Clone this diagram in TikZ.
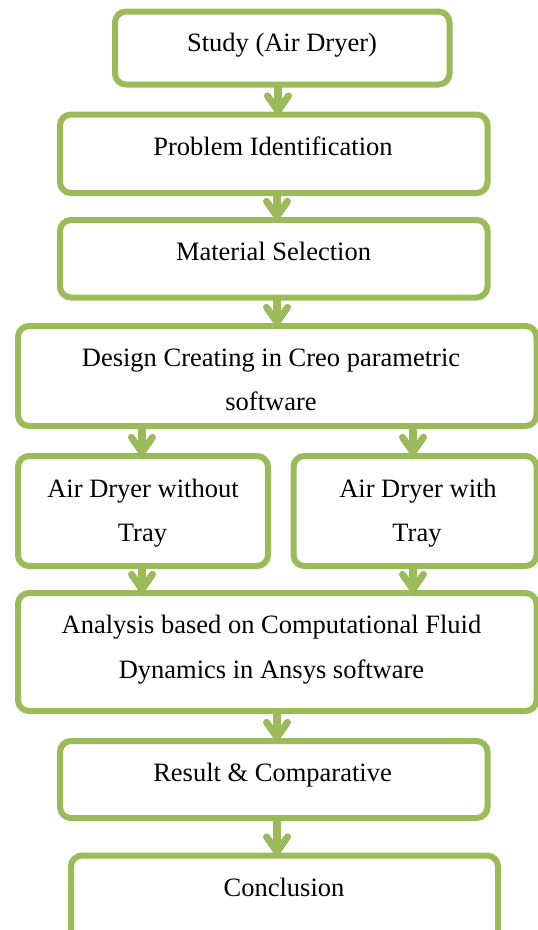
\documentclass[tikz,border=0pt]{standalone}
\usepackage{fontspec}
\setmainfont{Liberation Serif}
\usetikzlibrary{arrows.meta}
\definecolor{boxgreen}{HTML}{9BBB59}
\definecolor{shadowgray}{HTML}{7F7F7F}
\tikzset{
  box/.style={draw=boxgreen, line width=6pt, rounded corners=11pt, fill=white,
    inner sep=0pt, outer sep=0pt},
  txt/.style={anchor=base, inner sep=0pt, font=\fontsize{26.5}{44}\selectfont},
  flowarrow/.style={draw=boxgreen, line width=8pt,
    -{Straight Barb[length=15pt, width=21pt, line width=6.5pt, line cap=round]}},
  flowshadow/.style={draw=shadowgray, line width=8pt, shift={(0.6,2.2)},
    -{Straight Barb[length=15pt, width=21pt, line width=6.5pt, line cap=round]}}
}
\begin{document}
\begin{tikzpicture}[x=1pt, y=-1pt]
\useasboundingbox (0,0) rectangle (538,930);
\clip (0,0) rectangle (538,930);
% boxes
\node[box, minimum width=334.5pt, minimum height=73pt]  (b1) at (282.25,48) {};
\node[box, minimum width=427.5pt, minimum height=78.5pt] (b2) at (273.75,153.75) {};
\node[box, minimum width=427.5pt, minimum height=77.5pt] (b3) at (273.75,258.75) {};
\node[box, minimum width=518.5pt, minimum height=100pt] (b4) at (277.25,376) {};
\node[box, minimum width=250pt, minimum height=110pt]   (b5) at (143,511) {};
\node[box, minimum width=243pt, minimum height=110pt]   (b6) at (415,511) {};
\node[box, minimum width=518.5pt, minimum height=118pt] (b7) at (277.25,652) {};
\node[box, minimum width=427.5pt, minimum height=77pt]  (b8) at (273.75,779.5) {};
\node[box, minimum width=427pt, minimum height=90pt]    (b9) at (284.5,900.5) {};
% texts
\node[txt] (t1) at (282,51.5) {Study (Air Dryer)};
\node[txt] (t2) at (273,155.5) {Problem Identification};
\node[txt] (t3) at (273.5,260.5) {Material Selection};
\node[txt] (t4a) at (271,366.5) {Design Creating in Creo parametric};
\node[txt] (t4b) at (271,410.5) {software};
\node[txt] (t5a) at (143,497) {Air Dryer without};
\node[txt] (t5b) at (142.5,541) {Tray};
\node[txt] (t6a) at (418,497) {Air Dryer with};
\node[txt] (t6b) at (417,541) {Tray};
\node[txt] (t7a) at (271.5,633) {Analysis based on Computational Fluid};
\node[txt] (t7b) at (271.5,678) {Dynamics in Ansys software};
\node[txt] (t8) at (272.5,781.5) {Result \& Comparative};
\node[txt] (t9) at (284,896.5) {Conclusion};
% arrows: shadows
\foreach \a/\b/\xa/\xb in {b1/b2/-4.25/4.25, b2/b3/3.25/3.25, b3/b4/3.25/-0.25,
    b4/b5/-135.25/-1, b4/b6/135.75/-2, b5/b7/-1/-135.25, b6/b7/-2/135.75,
    b7/b8/-0.25/3.25, b8/b9/3.25/-7.5}{
  \draw[flowshadow] ([xshift=\xa pt]\a.south) -- ([xshift=\xb pt, yshift=-2pt]\b.north);
}
% arrows
\foreach \a/\b/\xa/\xb in {b1/b2/-4.25/4.25, b2/b3/3.25/3.25, b3/b4/3.25/-0.25,
    b4/b5/-135.25/-1, b4/b6/135.75/-2, b5/b7/-1/-135.25, b6/b7/-2/135.75,
    b7/b8/-0.25/3.25, b8/b9/3.25/-7.5}{
  \draw[flowarrow] ([xshift=\xa pt]\a.south) -- ([xshift=\xb pt, yshift=-2pt]\b.north);
}
\end{tikzpicture}
\end{document}
